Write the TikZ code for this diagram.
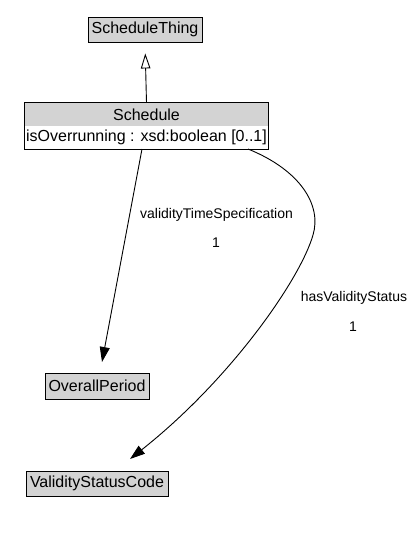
\documentclass[tikz,border=0pt]{standalone}
\usepackage{fontspec}
\setmainfont{Liberation Sans}
\usetikzlibrary{arrows.meta}
\begin{document}
\begin{tikzpicture}[x=1pt,y=-1pt,
  cls/.style={draw=black,line width=0.9pt,fill={rgb,255:red,211;green,211;blue,211},inner sep=0pt,font=\fontsize{16}{18}\selectfont,anchor=center},
  hdr/.style={fill={rgb,255:red,211;green,211;blue,211},inner sep=0pt,font=\fontsize{16}{18}\selectfont},
  attr/.style={fill=white,inner sep=0pt,font=\fontsize{16}{18}\selectfont},
  lbl/.style={inner sep=0pt,font=\fontsize{14}{16}\selectfont},
  edge/.style={line width=0.9pt,-{Triangle[length=15pt,width=10pt]}},
  inh/.style={line width=0.9pt,-{Triangle[open,length=15pt,width=9.5pt,line width=0.9pt]}}
]
\useasboundingbox (0,0) rectangle (419,535);
\node[cls,minimum width=114pt,minimum height=25pt] (st) at (145,29.5) {ScheduleThing};
\node[hdr,minimum width=243pt,minimum height=23pt] (schedH) at (146.5,114.5) {Schedule};
\node[attr,minimum width=243pt,minimum height=23pt] (schedA) at (146.5,137.5) {isOverrunning : xsd:boolean [0..1]};
\draw[line width=0.9pt] (schedH.north west) rectangle (schedA.south east);
\node[cls,minimum width=104pt,minimum height=26pt] (op) at (97,386) {OverallPeriod};
\node[cls,minimum width=142pt,minimum height=25pt] (vsc) at (97,483.5) {ValidityStatusCode};

\draw[inh,shorten >=11pt] (schedH.north) -- (st.south);

\coordinate (e1s) at (142,149);
\coordinate (e1t) at (102,362);
\draw[edge] (e1s) -- (e1t);
\node[lbl] (l1) at (216.5,215) {validityTimeSpecification};
\node[lbl] (m1) at (216,243) {1};

\coordinate (e2s) at (248,149);
\coordinate (e2m) at (313,235);
\coordinate (e2t) at (130,459);
\draw[edge] (e2s) .. controls (300,170) and (322,205) .. (e2m)
  .. controls (300,280) and (230,380) .. (e2t);
\node[lbl] (l2) at (354,298) {hasValidityStatus};
\node[lbl] (m2) at (353,327) {1};
\end{tikzpicture}
\end{document}
